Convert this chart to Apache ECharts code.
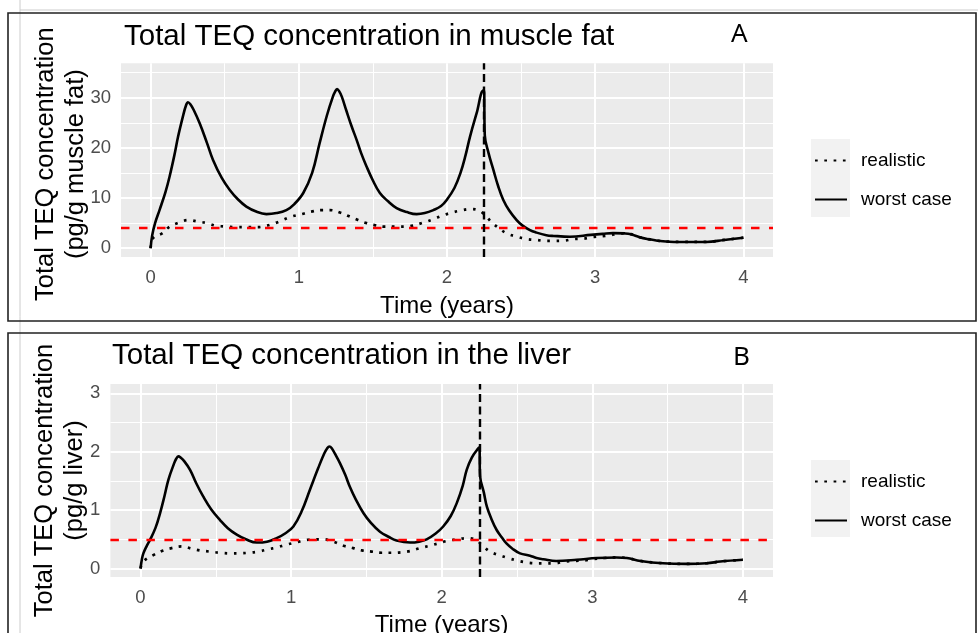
<!DOCTYPE html>
<html>
<head>
<meta charset="utf-8">
<script src="https://cdn.jsdelivr.net/npm/echarts@6/dist/echarts.min.js"></script>
<style>html,body{margin:0;padding:0;background:#fff;}#c{width:978px;height:633px;}</style>
</head>
<body>
<div id="c"></div>
<script>
// ---------- data ----------
const seriesNames = ['realistic', 'worst case'];
const xTicks = [0, 1, 2, 3, 4];
const xMinor = [0.5, 1.5, 2.5, 3.5];
const yTicksA = [0, 10, 20, 30];
const yMinorA = [5, 15, 25, 35];
const yTicksB = [0, 1, 2, 3];
const yMinorB = [0.5, 1.5, 2.5];
const thresholdA = 4;
const thresholdB = 0.5;
const exposureEnd = 2.25;

// Panel A: muscle fat, worst case
const tWorstA = [0,0.01,0.03,0.06,0.1,0.128,0.16,0.185,0.22,0.238,0.252,0.268,0.29,0.331,0.38,0.421,0.48,0.534,0.59,0.646,0.72,0.781,0.85,0.916,0.97,1.03,1.09,1.14,1.19,1.23,1.245,1.258,1.272,1.29,1.32,1.355,1.39,1.42,1.457,1.5,1.547,1.6,1.66,1.73,1.795,1.85,1.908,1.96,1.998,2.05,2.09,2.125,2.155,2.2,2.245,2.25,2.255,2.28,2.313,2.345,2.38,2.42,2.47,2.51,2.56,2.6,2.67,2.72,2.83,2.97,3.05,3.12,3.2,3.24,3.3,3.36,3.42,3.5,3.57,3.75,3.87,4.0];
const vWorstA = [0,2.5,5.0,7.6,11.2,14.3,18.5,22.2,26.5,28.4,29.1,28.7,27.6,24.9,21.0,17.6,14.0,11.6,9.7,8.3,7.2,6.8,7.0,7.6,8.8,11.0,15.0,20.9,26.5,30.2,31.2,31.7,31.3,30.2,27.5,24.4,21.6,19.0,16.3,13.5,11.0,9.4,8.0,7.2,6.8,7.0,7.6,8.4,9.6,12.0,14.9,18.5,22.2,26.9,31.4,31.4,22.5,19.0,15.6,12.4,9.6,7.5,5.6,4.5,3.6,3.15,2.6,2.45,2.3,2.65,2.85,3.0,2.95,2.8,2.2,1.8,1.5,1.3,1.25,1.25,1.65,2.1];
// Panel A: muscle fat, realistic
const tRealA = [0,0.016,0.08,0.128,0.19,0.252,0.32,0.38,0.44,0.51,0.58,0.65,0.72,0.77,0.84,0.89,0.95,1.02,1.085,1.153,1.21,1.277,1.345,1.4,1.457,1.51,1.58,1.65,1.72,1.77,1.84,1.91,1.96,2.02,2.09,2.155,2.21,2.256,2.3,2.35,2.4,2.47,2.535,2.6,2.67,2.72,2.79,2.85,2.92,2.98,3.05,3.1,3.16,3.2,3.24,3.3,3.36,3.42,3.5,3.57,3.75,3.87,4.0];
const vRealA = [0,2.0,3.0,4.3,5.1,5.6,5.3,5.0,4.5,4.3,4.2,4.2,4.2,4.4,5.0,5.6,6.3,6.8,7.3,7.6,7.6,7.1,6.3,5.6,5.0,4.6,4.3,4.3,4.3,4.5,5.1,5.8,6.4,7.0,7.5,7.8,7.6,6.6,5.2,4.0,3.0,2.3,1.85,1.65,1.45,1.45,1.5,1.8,1.9,2.2,2.4,2.6,2.9,2.95,2.8,2.2,1.8,1.5,1.3,1.25,1.25,1.65,2.1];

// Panel B: liver, worst case
const tWorstB = [0,0.01,0.019,0.04,0.063,0.1,0.13,0.16,0.185,0.22,0.237,0.251,0.266,0.29,0.329,0.37,0.417,0.47,0.528,0.58,0.639,0.7,0.772,0.84,0.904,0.96,1.015,1.07,1.125,1.18,1.22,1.24,1.254,1.27,1.29,1.325,1.36,1.39,1.43,1.48,1.53,1.59,1.65,1.7,1.79,1.85,1.9,1.96,2.01,2.06,2.1,2.14,2.166,2.2,2.243,2.25,2.255,2.28,2.3,2.33,2.365,2.4,2.43,2.47,2.52,2.586,2.63,2.675,2.76,2.896,3.03,3.16,3.23,3.32,3.47,3.63,3.76,3.85,4.0];
const vWorstB = [0,0.17,0.26,0.38,0.49,0.7,0.95,1.25,1.52,1.78,1.88,1.92,1.9,1.84,1.69,1.46,1.23,1.01,0.83,0.69,0.58,0.5,0.445,0.46,0.52,0.6,0.72,0.98,1.35,1.72,1.97,2.06,2.09,2.06,1.97,1.8,1.6,1.4,1.18,0.95,0.78,0.63,0.54,0.48,0.445,0.46,0.5,0.6,0.72,0.9,1.12,1.42,1.69,1.9,2.06,2.07,1.58,1.3,1.06,0.85,0.66,0.53,0.43,0.34,0.26,0.22,0.18,0.16,0.13,0.15,0.18,0.19,0.18,0.13,0.09,0.08,0.09,0.12,0.15];
// Panel B: liver, realistic
const tRealB = [0,0.019,0.085,0.151,0.207,0.274,0.34,0.395,0.46,0.528,0.594,0.65,0.716,0.782,0.85,0.904,0.97,1.037,1.1,1.16,1.214,1.28,1.347,1.413,1.47,1.535,1.6,1.67,1.735,1.79,1.856,1.92,1.977,2.03,2.1,2.166,2.22,2.265,2.32,2.375,2.44,2.51,2.575,2.64,2.685,2.75,2.82,2.885,2.95,3.0,3.08,3.16,3.23,3.32,3.47,3.63,3.76,3.85,4.0];
const vRealB = [0,0.12,0.23,0.31,0.35,0.38,0.34,0.31,0.29,0.27,0.26,0.26,0.27,0.29,0.33,0.36,0.41,0.45,0.49,0.5,0.5,0.46,0.39,0.35,0.31,0.29,0.27,0.27,0.28,0.3,0.35,0.39,0.43,0.47,0.5,0.52,0.5,0.41,0.29,0.235,0.18,0.13,0.1,0.09,0.09,0.09,0.12,0.13,0.14,0.16,0.18,0.19,0.18,0.13,0.09,0.08,0.09,0.12,0.15];

// ---------- helpers ----------
const zip = (t, v) => t.map((x, i) => [x, v[i]]);
const FONT = '"Liberation Sans", Arial, Helvetica, sans-serif';
const majorStyle = {color: '#ffffff', width: 2, type: 'solid'};
const minorStyle = {color: '#ffffff', width: 1.1, type: 'solid'};

function gridLines(idx, yMajor, yMinor) {
  const data = [];
  xMinor.forEach(v => data.push({xAxis: v, lineStyle: minorStyle}));
  yMinor.forEach(v => data.push({yAxis: v, lineStyle: minorStyle}));
  xTicks.forEach(v => data.push({xAxis: v, lineStyle: majorStyle}));
  yMajor.forEach(v => data.push({yAxis: v, lineStyle: majorStyle}));
  return {
    name: 'gridlines' + idx, type: 'line', xAxisIndex: idx, yAxisIndex: idx,
    data: [], silent: true, z: 1, animation: false,
    markLine: {z: 1, silent: true, symbol: 'none', animation: false, label: {show: false},
      emphasis: {disabled: true}, data: data}
  };
}
function refLines(idx, thr) {
  return {
    name: 'ref' + idx, type: 'line', xAxisIndex: idx, yAxisIndex: idx,
    data: [], silent: true, z: 6, animation: false,
    markLine: {z: 6, silent: true, symbol: 'none', animation: false, label: {show: false},
      emphasis: {disabled: true},
      data: [
        {yAxis: thr, lineStyle: {color: '#ff0000', width: 2.3, type: [8.5, 9.5]}},
        {xAxis: exposureEnd, lineStyle: {color: '#000000', width: 2.4, type: [8, 4.5]}}
      ]}
  };
}
function curve(idx, name, t, v) {
  const dotted = name === 'realistic';
  return {
    name: name, type: 'line', xAxisIndex: idx, yAxisIndex: idx,
    data: zip(t, v), showSymbol: false, symbol: 'none',
    smooth: 0.4, z: 3, animation: false,
    itemStyle: {color: '#000000'},
    lineStyle: {color: '#000000', width: dotted ? 2.7 : 2.6,
      type: dotted ? [2.7, 6.6] : 'solid', cap: 'butt', join: 'round'},
    emphasis: {disabled: true}
  };
}
function xAxisCfg(idx, gap) {
  return {
    type: 'value', gridIndex: idx, min: -0.2, max: 4.2,
    axisLine: {show: false},
    axisTick: {show: true, length: 5, customValues: xTicks, lineStyle: {color: '#333333', width: 1.6}},
    axisLabel: {customValues: xTicks, margin: 11, color: '#4d4d4d', fontSize: 18.5, fontFamily: FONT},
    splitLine: {show: false},
    name: 'Time (years)', nameLocation: 'middle', nameGap: gap, nameMoveOverlap: false,
    nameTextStyle: {color: '#000000', fontSize: 24, fontFamily: FONT}
  };
}
function yAxisCfg(idx, min, max, ticks, name, pad, gap) {
  return {
    type: 'value', gridIndex: idx, min: min, max: max,
    axisLine: {show: false},
    axisTick: {show: true, length: 5, customValues: ticks, lineStyle: {color: '#333333', width: 1.6}},
    axisLabel: {customValues: ticks, margin: 10, color: '#4d4d4d', fontSize: 18.5, fontFamily: FONT},
    splitLine: {show: false},
    name: name, nameLocation: 'middle', nameRotate: 90, nameGap: gap, nameMoveOverlap: false,
    nameTextStyle: {color: '#000000', fontSize: 25.5, lineHeight: 30, fontFamily: FONT, padding: pad}
  };
}
function legendCfg(top) {
  return {
    data: seriesNames, orient: 'vertical', left: 814, top: top,
    itemWidth: 32, itemHeight: 14, itemGap: 20, padding: 0,
    selectedMode: false,
    itemStyle: {opacity: 0},
    textStyle: {color: '#000000', fontSize: 19, fontFamily: FONT, padding: [0, 0, 0, 9]}
  };
}

const chart = echarts.init(document.getElementById('c'), null, {renderer: 'canvas'});
chart.setOption({
  backgroundColor: '#ffffff',
  animation: false,
  title: [
    {text: 'Total TEQ concentration in muscle fat', left: 124, top: 22, padding: 0,
      textStyle: {fontSize: 29.5, fontWeight: 'normal', color: '#000', fontFamily: FONT}},
    {text: 'A', left: 731, top: 22, padding: 0,
      textStyle: {fontSize: 26, fontWeight: 'normal', color: '#000', fontFamily: '"Noto Sans", sans-serif'}},
    {text: 'Total TEQ concentration in the liver', left: 112, top: 341, padding: 0,
      textStyle: {fontSize: 29.5, fontWeight: 'normal', color: '#000', fontFamily: FONT}},
    {text: 'B', left: 733, top: 345, padding: 0,
      textStyle: {fontSize: 26, fontWeight: 'normal', color: '#000', fontFamily: '"Noto Sans", sans-serif'}}
  ],
  legend: [legendCfg(151), legendCfg(472)],
  grid: [
    {left: 121, right: 205, top: 63.3, bottom: 376, show: true, backgroundColor: '#ebebeb', borderWidth: 0,
      containLabel: false, outerBoundsMode: 'none'},
    {left: 110.4, right: 205, top: 384, bottom: 56, show: true, backgroundColor: '#ebebeb', borderWidth: 0,
      containLabel: false, outerBoundsMode: 'none'}
  ],
  xAxis: [xAxisCfg(0, 37), xAxisCfg(1, 36)],
  yAxis: [
    yAxisCfg(0, -1.75, 36.85, yTicksA, 'Total TEQ concentration\n(pg/g muscle fat)', [0, 8, 0, 0], 30.5),
    yAxisCfg(1, -0.145, 3.16, yTicksB, 'Total TEQ concentration\n(pg/g liver)', [0, 0, 0, 0], 20)
  ],
  graphic: [
    {type: 'line', shape: {x1: 20, y1: 0, x2: 20, y2: 633}, style: {stroke: '#cccccc', lineWidth: 1}, z: -1},
    {type: 'line', shape: {x1: 20, y1: 10, x2: 978, y2: 10}, style: {stroke: '#cccccc', lineWidth: 1}, z: -1},
    {type: 'rect', shape: {x: 8, y: 13, width: 968, height: 308}, style: {fill: 'none', stroke: '#222222', lineWidth: 1.6}, z: 10},
    {type: 'rect', shape: {x: 8, y: 333, width: 968, height: 320}, style: {fill: 'none', stroke: '#222222', lineWidth: 1.6}, z: 10},
    {type: 'rect', shape: {x: 811, y: 139, width: 39, height: 78}, style: {fill: '#f2f2f2'}, z: -1},
    {type: 'rect', shape: {x: 811, y: 460, width: 39, height: 77}, style: {fill: '#f2f2f2'}, z: -1}
  ],
  series: [
    gridLines(0, yTicksA, yMinorA),
    gridLines(1, yTicksB, yMinorB),
    curve(0, 'realistic', tRealA, vRealA),
    curve(0, 'worst case', tWorstA, vWorstA),
    curve(1, 'realistic', tRealB, vRealB),
    curve(1, 'worst case', tWorstB, vWorstB),
    refLines(0, thresholdA),
    refLines(1, thresholdB)
  ]
});
</script>
</body>
</html>
